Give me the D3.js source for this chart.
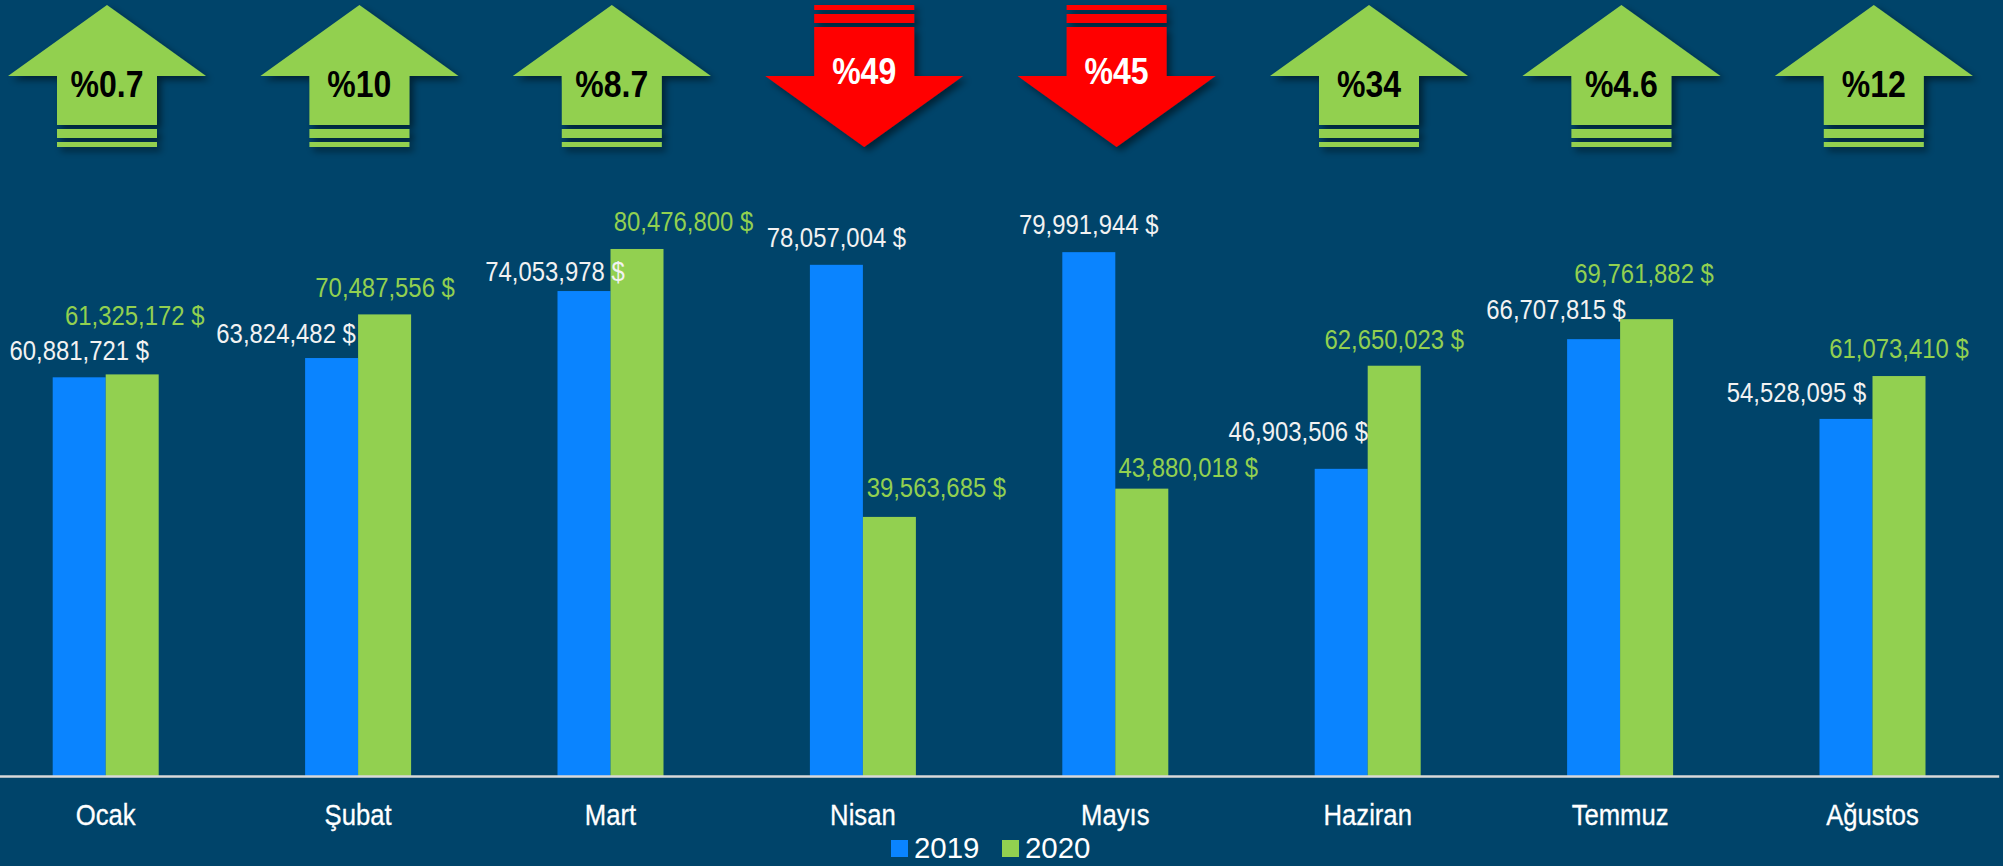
<!DOCTYPE html>
<html>
<head>
<meta charset="utf-8">
<script src="https://cdn.jsdelivr.net/npm/d3@7"></script>
<style>
  html, body { margin: 0; padding: 0; background: #00446a; overflow: hidden; }
  text { font-family: "Liberation Sans", sans-serif; }
</style>
</head>
<body>
<div id="chart"></div>
<script>
// chart values
var months = ["Ocak", "Şubat", "Mart", "Nisan", "Mayıs", "Haziran", "Temmuz", "Ağustos"];
var values2019 = [60881721, 63824482, 74053978, 78057004, 79991944, 46903506, 66707815, 54528095];
var values2020 = [61325172, 70487556, 80476800, 39563685, 43880018, 62650023, 69761882, 61073410];
var changeLabels = ["%0.7", "%10", "%8.7", "%49", "%45", "%34", "%4.6", "%12"];
var years = ["2019", "2020"];

var width = 2003;
var height = 866;
var baseline = 776;

var blue = "#0a84ff";
var green = "#92d050";
var red = "#ff0000";

var svg = d3.select("#chart").append("svg")
    .attr("width", width)
    .attr("height", height)
    .style("display", "block");

svg.append("rect").attr("width", width).attr("height", height).attr("fill", "#00446a");

var defs = svg.append("defs");
defs.append("filter")
    .attr("id", "shadow")
    .attr("x", "-20%").attr("y", "-20%").attr("width", "140%").attr("height", "140%")
    .append("feDropShadow")
    .attr("dx", 4).attr("dy", 4).attr("stdDeviation", 3.5)
    .attr("flood-color", "#000").attr("flood-opacity", 0.5);

var xScale = d3.scaleBand().domain(months).range([-20.5, 1998.7]);
var yScale = d3.scaleLinear().domain([0, 80000000]).range([baseline, 252.1]);
var barWidth = 53;

function center(i) {
    return xScale(months[i]) + xScale.bandwidth() / 2;
}

// no narrow font here, so squeeze the normal one sideways
function squeeze(selection, factor) {
    selection.each(function() {
        d3.select(this)
            .attr("textLength", this.getComputedTextLength() * factor)
            .attr("lengthAdjust", "spacingAndGlyphs");
    });
}

// arrows
var arrows = svg.append("g");
changeLabels.forEach(function(label, i) {
    var up = values2020[i] >= values2019[i];
    var g = arrows.append("g")
        .attr("transform", "translate(" + (center(i) + 1.3) + ",0)")
        .attr("filter", "url(#shadow)");
    var fill = up ? green : red;
    if (up) {
        g.append("path").attr("fill", fill)
            .attr("d", "M0,5L99,76H50V125H-50V76H-99Z");
        g.append("rect").attr("x", -50).attr("y", 129).attr("width", 100).attr("height", 9).attr("fill", fill);
        g.append("rect").attr("x", -50).attr("y", 142).attr("width", 100).attr("height", 5).attr("fill", fill);
    } else {
        g.append("path").attr("fill", fill)
            .attr("d", "M0,147L99,76H50V27H-50V76H-99Z");
        g.append("rect").attr("x", -50).attr("y", 14).attr("width", 100).attr("height", 9).attr("fill", fill);
        g.append("rect").attr("x", -50).attr("y", 5).attr("width", 100).attr("height", 5).attr("fill", fill);
    }
    arrows.append("text")
        .attr("x", center(i) + 1.3)
        .attr("y", up ? 97 : 83.5)
        .attr("text-anchor", "middle")
        .attr("font-size", 37)
        .attr("font-weight", "bold")
        .attr("fill", up ? "#000" : "#fff")
        .text(label)
        .call(squeeze, 0.865);
});

// bars
var bars = svg.append("g");
bars.selectAll("rect.y2019").data(values2019).enter().append("rect")
    .attr("class", "y2019")
    .attr("x", function(d, i) { return center(i) - barWidth; })
    .attr("y", function(d) { return yScale(d); })
    .attr("width", barWidth)
    .attr("height", function(d) { return baseline - yScale(d); })
    .attr("fill", blue);
bars.selectAll("rect.y2020").data(values2020).enter().append("rect")
    .attr("class", "y2020")
    .attr("x", function(d, i) { return center(i); })
    .attr("y", function(d) { return yScale(d); })
    .attr("width", barWidth)
    .attr("height", function(d) { return baseline - yScale(d); })
    .attr("fill", green);

// axis line and month names
var xAxis = d3.axisBottom(xScale).tickSize(0);
var axisG = svg.append("g")
    .attr("transform", "translate(0," + baseline + ")")
    .call(xAxis);
axisG.select(".domain").attr("stroke", "#d9d9d9").attr("stroke-width", 2.5);
axisG.selectAll("text")
    .attr("y", 49)
    .attr("dy", 0)
    .attr("fill", "#fff")
    .attr("font-size", 30)
    .attr("stroke", "#fff")
    .attr("stroke-width", 0.3)
    .call(squeeze, 0.855);

// the data labels were dragged by hand in the original, so each has its own nudge
var nudge2019 = [[0, -17], [-45.5, -15], [-29, -10], [0, -18], [0, -18], [-43, -28], [-37.5, -20], [-49.5, -17]];
var nudge2020 = [[2.5, -49], [0.5, -17], [46.5, -18], [47, -20], [46.5, -12], [0, -17], [-2.5, -36], [0, -18]];

function fmt(v) {
    return d3.format(",")(v) + " $";
}

var labels = svg.append("g").attr("font-size", 27);
labels.selectAll("text.l2019").data(values2019).enter().append("text")
    .attr("class", "l2019")
    .attr("x", function(d, i) { return center(i) - barWidth / 2 + nudge2019[i][0]; })
    .attr("y", function(d, i) { return yScale(d) + nudge2019[i][1]; })
    .attr("text-anchor", "middle")
    .attr("fill", "#f2f2f2")
    .text(fmt)
    .call(squeeze, 0.885);
labels.selectAll("text.l2020").data(values2020).enter().append("text")
    .attr("class", "l2020")
    .attr("x", function(d, i) { return center(i) + barWidth / 2 + nudge2020[i][0]; })
    .attr("y", function(d, i) { return yScale(d) + nudge2020[i][1]; })
    .attr("text-anchor", "middle")
    .attr("fill", green)
    .text(fmt)
    .call(squeeze, 0.885);

// legend
var legend = svg.append("g");
years.forEach(function(y, i) {
    legend.append("rect")
        .attr("x", 891 + i * 111)
        .attr("y", 840)
        .attr("width", 17)
        .attr("height", 17)
        .attr("fill", i === 0 ? blue : green);
    legend.append("text")
        .attr("x", 914 + i * 111)
        .attr("y", 858)
        .attr("font-size", 30)
        .attr("fill", "#fff")
        .text(y)
        .call(squeeze, 0.98);
});
</script>
</body>
</html>
